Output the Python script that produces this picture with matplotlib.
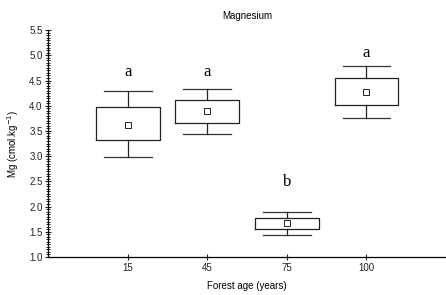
import matplotlib
matplotlib.use("Agg")
import matplotlib.pyplot as plt
from matplotlib.ticker import MultipleLocator

plt.rcParams['font.family'] = ['Liberation Sans', 'DejaVu Sans']

ages = ['15', '45', '75', '100']
means = [3.62, 3.89, 1.67, 4.27]
box_low = [3.31, 3.66, 1.55, 4.01]
box_high = [3.97, 4.12, 1.77, 4.54]
whisk_low = [2.99, 3.43, 1.44, 3.75]
whisk_high = [4.29, 4.34, 1.89, 4.79]
letters = ['a', 'a', 'b', 'a']
letter_y = [4.66, 4.66, 2.48, 5.04]

stats = []
for i in range(len(ages)):
    stats.append({'mean': means[i], 'med': means[i], 'q1': box_low[i], 'q3': box_high[i],
                  'whislo': whisk_low[i], 'whishi': whisk_high[i], 'fliers': [], 'label': ages[i]})

fig = plt.figure(figsize=(4.46, 2.95), dpi=100)
ax = fig.add_axes([0.108, 0.129, 0.892, 0.769])

pos = list(range(1, len(ages) + 1))
ax.bxp(stats, positions=pos, widths=0.8, capwidths=0.6, showmeans=True, showfliers=False,
       boxprops=dict(color='#222222', linewidth=0.9),
       whiskerprops=dict(color='#222222', linewidth=0.9),
       capprops=dict(color='#333333', linewidth=0.9),
       medianprops=dict(linewidth=0),
       meanprops=dict(marker='s', markerfacecolor='white', markeredgecolor='#222222',
                      markersize=4, markeredgewidth=0.7))

for i, t in enumerate(letters):
    ax.text(pos[i], letter_y[i], t, ha='center', va='center', fontsize=12,
            family=['Liberation Serif', 'DejaVu Serif'])

ax.set_xlim(0, 5)
ax.set_ylim(1.0, 5.5)
ax.set_xticks(pos)
ax.set_xticklabels(ages)
ax.yaxis.set_major_locator(MultipleLocator(0.5))
ax.yaxis.set_minor_locator(MultipleLocator(0.05))
ax.yaxis.set_major_formatter(plt.FormatStrFormatter('%.1f'))
ax.spines['top'].set_visible(False)
ax.spines['right'].set_visible(False)
ax.spines['left'].set_linewidth(0.9)
ax.spines['bottom'].set_linewidth(0.9)
ax.tick_params(axis='both', which='major', direction='inout', length=4, width=0.8,
               labelsize=7, colors='#222222', pad=2)
ax.tick_params(axis='y', which='minor', direction='inout', length=2.5, width=0.6)
ax.set_title('Magnesium', fontsize=7, pad=8)
ax.set_xlabel('Forest age (years)', fontsize=7, labelpad=6)
ax.set_ylabel('Mg (cmol.kg$^{-1}$)', fontsize=7, labelpad=6)

fig.savefig('out.png', dpi=100)
